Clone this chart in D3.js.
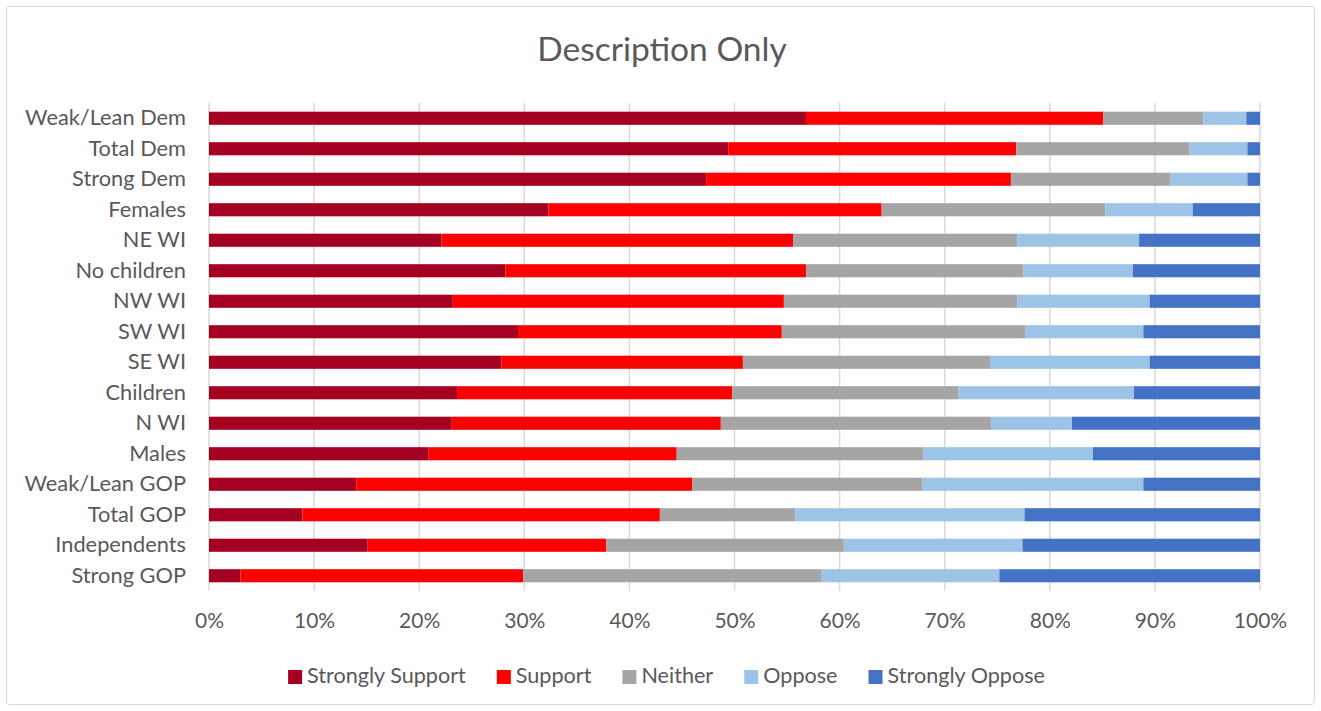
<!DOCTYPE html>
<html>
<head>
<meta charset="utf-8">
<script src="https://cdn.jsdelivr.net/npm/d3@7"></script>
<style>
  html, body { margin: 0; padding: 0; background: #fff; }
  svg { display: block; font-family: Lato, "Open Sans", sans-serif; }
</style>
</head>
<body>
<svg id="chart" width="1321" height="711"></svg>
<script>
// Groups, top to bottom
const categories = [
  "Weak/Lean Dem", "Total Dem", "Strong Dem", "Females", "NE WI", "No children",
  "NW WI", "SW WI", "SE WI", "Children", "N WI", "Males",
  "Weak/Lean GOP", "Total GOP", "Independents", "Strong GOP"
];

// Response shares (percent) for each group
const stronglySupport = [56.8, 49.4, 47.3, 32.3, 22.1, 28.2, 23.2, 29.4, 27.8, 23.6, 23.1, 20.9, 14.0, 8.9, 15.1, 3.0];
const support         = [28.3, 27.4, 29.0, 31.7, 33.5, 28.6, 31.5, 25.1, 23.0, 26.2, 25.6, 23.6, 32.0, 34.0, 22.7, 26.9];
const neither         = [ 9.5, 16.5, 15.2, 21.3, 21.3, 20.7, 22.2, 23.2, 23.5, 21.5, 25.7, 23.5, 21.9, 12.9, 22.6, 28.4];
const oppose          = [ 4.1,  5.5,  7.3,  8.3, 11.6, 10.4, 12.6, 11.2, 15.2, 16.7,  7.7, 16.1, 21.0, 21.8, 17.0, 16.9];
const stronglyOppose  = [ 1.3,  1.2,  1.2,  6.4, 11.5, 12.1, 10.5, 11.1, 10.5, 12.0, 17.9, 15.9, 11.1, 22.4, 22.6, 24.8];

const seriesNames = ["Strongly Support", "Support", "Neither", "Oppose", "Strongly Oppose"];
const seriesColors = ["#A50021", "#FF0000", "#A5A5A5", "#9DC3E6", "#4472C4"];
const tickValues = [0, 0.1, 0.2, 0.3, 0.4, 0.5, 0.6, 0.7, 0.8, 0.9, 1.0];

const rows = categories.map((c, i) => {
  const vals = [stronglySupport[i], support[i], neither[i], oppose[i], stronglyOppose[i]];
  const total = d3.sum(vals);
  const r = { category: c };
  seriesNames.forEach((s, k) => { r[s] = vals[k] / total; });
  return r;
});

const svg = d3.select("#chart");
const W = 1321, H = 711;
const margin = { top: 103, left: 209 };
const plotW = 1260 - margin.left;
const plotH = 591 - margin.top;
const textColor = "#595959";

// chart frame
svg.append("rect")
  .attr("x", 6.5).attr("y", 6.5)
  .attr("width", W - 13).attr("height", H - 13)
  .attr("rx", 3)
  .attr("fill", "#fff").attr("stroke", "#D9D9D9").attr("stroke-width", 1);

// title
svg.append("text")
  .attr("x", 662).attr("y", 61)
  .attr("text-anchor", "middle")
  .attr("fill", textColor)
  .style("font-size", "33.5px")
  .text("Description Only");

const x = d3.scaleLinear().domain([0, 1]).range([0, plotW]);
const y = d3.scaleBand().domain(categories).range([0, plotH]).paddingInner(0.57).paddingOuter(0.285);

const g = svg.append("g").attr("transform", `translate(${margin.left},${margin.top})`);

// vertical gridlines
g.append("g")
  .selectAll("line")
  .data(tickValues)
  .join("line")
  .attr("x1", d => x(d)).attr("x2", d => x(d))
  .attr("y1", 0).attr("y2", plotH)
  .attr("stroke", "#D9D9D9").attr("stroke-width", 1.5);

// stacked bars
const stack = d3.stack().keys(seriesNames);
const layers = stack(rows);

g.append("g")
  .selectAll("g")
  .data(layers)
  .join("g")
  .attr("fill", (d, i) => seriesColors[i])
  .selectAll("rect")
  .data(d => d)
  .join("rect")
  .attr("x", d => x(d[0]))
  .attr("width", d => x(d[1]) - x(d[0]))
  .attr("y", d => y(d.data.category))
  .attr("height", y.bandwidth());

// category axis labels
const yAxis = d3.axisLeft(y).tickSize(0).tickPadding(23);
const yg = g.append("g").call(yAxis);
yg.select(".domain").remove();
yg.selectAll("text")
  .attr("fill", textColor)
  .style("font-size", "21.8px")
  .style("font-family", "Lato, 'Open Sans', sans-serif");

// value axis labels
const xAxis = d3.axisBottom(x).tickValues(tickValues).tickFormat(d3.format(".0%")).tickSize(0).tickPadding(22);
const xg = g.append("g").attr("transform", `translate(0,${plotH})`).call(xAxis);
xg.select(".domain").remove();
xg.selectAll("text")
  .attr("fill", textColor)
  .style("font-size", "21px")
  .style("font-family", "Lato, 'Open Sans', sans-serif");

// legend, centred under the plot
const legend = svg.append("g");
const items = legend.selectAll("g")
  .data(seriesNames)
  .join("g");
items.append("rect")
  .attr("width", 14).attr("height", 14)
  .attr("y", -13)
  .attr("fill", (d, i) => seriesColors[i]);
items.append("text")
  .attr("x", 19)
  .attr("fill", textColor)
  .style("font-size", "21.6px")
  .text(d => d);

let cursor = 0;
const gap = 31;
items.each(function () {
  const w = 19 + d3.select(this).select("text").node().getComputedTextLength();
  d3.select(this).attr("transform", `translate(${cursor},0)`);
  cursor += w + gap;
});
const totalW = cursor - gap;
legend.attr("transform", `translate(${(283 + 1050) / 2 - totalW / 2},${683})`);
</script>
</body>
</html>
